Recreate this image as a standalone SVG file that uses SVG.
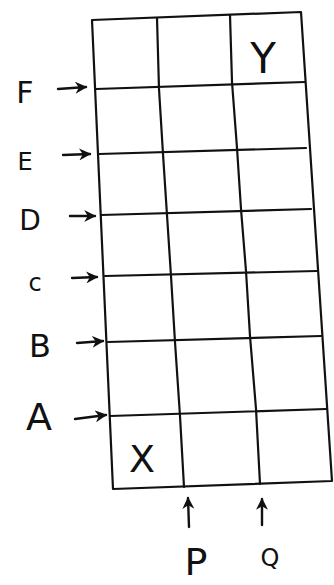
<svg xmlns="http://www.w3.org/2000/svg" width="334" height="585" viewBox="0 0 334 585">
<style>
.g{fill:none;stroke:#111;stroke-width:2.2;stroke-linejoin:round;stroke-linecap:round}
.a{fill:none;stroke:#111;stroke-width:2.4;stroke-linecap:round}
.t{font-family:"DejaVu Sans","Liberation Sans",sans-serif;fill:#111;text-anchor:middle}
</style>
<defs>
<marker id="ah" viewBox="0 0 10 10" refX="9" refY="5" markerWidth="5" markerHeight="5" orient="auto" markerUnits="strokeWidth">
<path d="M0,0 L10,5 L0,10 L3,5 Z" fill="#111"/>
</marker>
</defs>
<rect width="334" height="585" fill="#fff"/>
<g id="grid">
<polygon class="g" points="92,20 301,12 332,481 113,489"/>
<polyline class="g" points="157,18 159,89 163,154 167,215 171,276 175,342 180,416 184,487"/>
<polyline class="g" points="230,15 232,82 237,148 241,209 246,271 250,336 256,409 260,484"/>
<line class="g" x1="96" y1="89" x2="305" y2="82"/>
<line class="g" x1="99" y1="154" x2="306" y2="148"/>
<line class="g" x1="101" y1="215" x2="311" y2="209"/>
<line class="g" x1="105" y1="276" x2="317" y2="271"/>
<line class="g" x1="108" y1="342" x2="321" y2="336"/>
<line class="g" x1="110" y1="416" x2="326" y2="409"/>
</g>
<g id="cell-X"><text class="t" x="142" y="472" font-size="38">X</text></g>
<g id="cell-Y"><text class="t" x="263" y="73" font-size="42">Y</text></g>
<g id="labels">
<text class="t" x="25" y="103" font-size="30">F</text>
<text class="t" x="25" y="170" font-size="24">E</text>
<text class="t" x="30" y="230" font-size="28">D</text>
<text class="t" x="35" y="291" font-size="24">c</text>
<text class="t" x="40" y="357" font-size="32">B</text>
<text class="t" x="39" y="430" font-size="38">A</text>
<text class="t" x="196" y="575" font-size="38">P</text>
<text class="t" x="270" y="566" font-size="24">Q</text>
</g>
<g id="connectors">
<line class="a" x1="58" y1="89" x2="86" y2="87" marker-end="url(#ah)"/>
<line class="a" x1="63" y1="155" x2="90" y2="154" marker-end="url(#ah)"/>
<line class="a" x1="70" y1="216" x2="95" y2="216" marker-end="url(#ah)"/>
<line class="a" x1="72" y1="278" x2="97" y2="277" marker-end="url(#ah)"/>
<line class="a" x1="77" y1="343" x2="103" y2="341" marker-end="url(#ah)"/>
<line class="a" x1="75" y1="419" x2="106" y2="415" marker-end="url(#ah)"/>
<line class="a" x1="189" y1="527" x2="188" y2="498" marker-end="url(#ah)"/>
<line class="a" x1="262" y1="525" x2="262" y2="499" marker-end="url(#ah)"/>
</g>
</svg>
